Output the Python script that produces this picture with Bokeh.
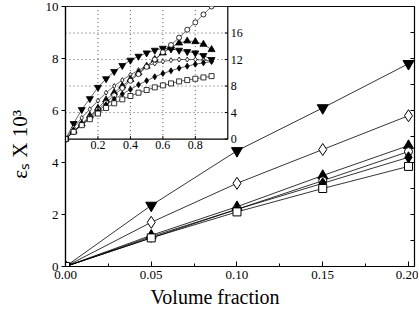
import math
from bokeh.plotting import figure
from bokeh.models import Range1d, FixedTicker, NumeralTickFormatter
from bokeh.core.properties import value
from bokeh.embed import file_html
from bokeh.resources import INLINE

# ---- main chart data (volume fraction vs eps_s x 10^3) ----
vol_main = [0.0, 0.05, 0.10, 0.15, 0.20]
tri_down_main = [0.0, 2.35, 4.45, 6.1, 7.8]
diamond_open_main = [0.0, 1.7, 3.2, 4.5, 5.8]
tri_up_main = [0.0, 1.2, 2.3, 3.5, 4.65]
circle_open_main = [0.0, 1.1, 2.2, 3.3, 4.42]
diamond_main = [0.0, 1.15, 2.2, 3.2, 4.2]
square_main = [0.0, 1.1, 2.1, 3.0, 3.85]

x_ticks_main = [0.0, 0.05, 0.10, 0.15, 0.20]
x_minor_main = [0.025, 0.075, 0.125, 0.175]
y_ticks_main = [0, 2, 4, 6, 8, 10]
y_right_ticks = [1, 2, 3, 4, 5, 6, 7, 8, 9]
x_max_main = 0.2035
y_max_main = 10

# ---- inset data ----
vol_inset = [0.0, 0.05, 0.10, 0.15, 0.20, 0.25, 0.30, 0.35, 0.40, 0.45,
             0.50, 0.55, 0.60, 0.65, 0.70, 0.75, 0.80, 0.85, 0.90]
tri_down_inset = [0.0, 2.35, 4.45, 6.1, 7.8, 9.1, 10.2, 11.1, 11.9, 12.5,
                  13.0, 13.4, 13.7, 13.6, 13.4, 13.2, 13.0, 12.6, 12.0]
diamond_open_inset = [0.0, 1.7, 3.2, 4.5, 5.8, 7.0, 8.0, 8.9, 9.7, 10.4,
                      11.0, 11.4, 11.7, 11.9, 12.0, 12.0, 12.0, 11.9, 11.8]
tri_up_inset = [0.0, 1.2, 2.3, 3.5, 4.65, 5.9, 7.0, 8.0, 9.0, 10.0,
                11.0, 12.0, 13.0, 13.8, 14.5, 14.8, 14.7, 14.3, 13.5]
circle_open_inset = [0.0, 1.1, 2.2, 3.3, 4.42, 5.5, 6.6, 7.7, 8.8, 9.8,
                     10.9, 12.0, 13.1, 14.2, 15.3, 16.5, 17.6, 18.8, 20.0]
diamond_inset = [0.0, 1.15, 2.2, 3.2, 4.2, 5.2, 6.0, 6.8, 7.5, 8.2,
                 8.8, 9.4, 9.9, 10.3, 10.7, 11.0, 11.3, 11.5, 11.7]
square_inset = [0.0, 1.1, 2.1, 3.0, 3.85, 4.7, 5.4, 6.0, 6.5, 7.0,
                7.4, 7.8, 8.1, 8.4, 8.7, 8.9, 9.1, 9.3, 9.5]

x_ticks_inset = [0.2, 0.4, 0.6, 0.8]
x_labels_inset = ["0.2", "0.4", "0.6", "0.8"]
y_ticks_inset = [0, 4, 8, 12, 16]
y_labels_inset = ["0", "4", "8", "12", "16"]
inset_x_max = 1.0
inset_y_max = 20.0

FONT = "Liberation Serif"
NB = "\u00a0"

# ---------------- main figure ----------------
p = figure(width=418, height=312, x_range=Range1d(0, x_max_main), y_range=Range1d(0, y_max_main),
           output_backend="svg", toolbar_location=None,
           min_border_left=65, min_border_right=4, min_border_top=6, min_border_bottom=46)
p.background_fill_color = "white"
p.border_fill_color = "white"
p.outline_line_color = "black"
p.outline_line_width = 1.2
p.xgrid.visible = False
p.ygrid.visible = False

# inset occupies the top-left part of the frame (about 0.465 of width, 0.51 of height)
p.extra_x_ranges = {"ix": Range1d(0, inset_x_max / 0.465)}
p.extra_y_ranges = {"iy": Range1d(inset_y_max - inset_y_max / 0.51, inset_y_max)}

xa = p.xaxis[0]
xa.ticker = FixedTicker(ticks=x_ticks_main, minor_ticks=x_minor_main)
xa.formatter = NumeralTickFormatter(format="0.00")
xa.axis_label = "Volume fraction" + NB * 10
xa.major_tick_in = 5
xa.major_tick_out = 0
xa.minor_tick_in = 3
xa.minor_tick_out = 0
xa.major_label_standoff = 4
xa.axis_label_standoff = 4

ya = p.yaxis[0]
ya.ticker = FixedTicker(ticks=y_ticks_main, minor_ticks=[])
ya.axis_label = "\u03b5\u209b X 10\u00b3" + NB * 3
ya.major_tick_in = 0
ya.major_tick_out = 4
ya.major_label_standoff = 3
ya.axis_label_standoff = 11

for ax in (xa, ya):
    ax.axis_line_color = "black"
    ax.axis_line_width = 1.2
    ax.major_tick_line_color = "black"
    ax.minor_tick_line_color = "black"
    ax.major_label_text_font = FONT
    ax.major_label_text_font_size = "13px"
    ax.major_label_text_color = "black"
    ax.axis_label_text_font = FONT
    ax.axis_label_text_font_size = "20px"
    ax.axis_label_text_font_style = "normal"
    ax.axis_label_text_color = "black"
ya.axis_label_text_font_size = "21px"
ya.major_label_orientation = "horizontal"

# inward ticks on the right border
p.ray(x=[x_max_main] * len(y_right_ticks), y=y_right_ticks, length=4, length_units="screen",
      angle=math.pi, line_color="black", line_width=1)

main_series = [
    (tri_down_main, "inverted_triangle", "black", 11),
    (diamond_open_main, "diamond", "white", 12),
    (tri_up_main, "triangle", "black", 10),
    (circle_open_main, "circle", "white", 8),
    (diamond_main, "diamond", "black", 11),
    (square_main, "square", "white", 8),
]
for ys, mk, fc, sz in main_series:
    p.line(vol_main, ys, line_color="black", line_width=0.8)
    p.scatter(vol_main, ys, marker=mk, size=sz, fill_color=fc, line_color="black", line_width=1)

# ---------------- inset (drawn on extra ranges) ----------------
R = dict(x_range_name="ix", y_range_name="iy")
p.quad(left=[0], right=[inset_x_max], bottom=[0], top=[inset_y_max],
       fill_color="white", line_color="black", line_width=1.2, **R)

# dotted grid lines
p.segment(x0=x_ticks_inset, x1=x_ticks_inset, y0=[0] * 4, y1=[inset_y_max] * 4,
          line_color="#555555", line_dash="1 3", line_width=1, **R)
p.segment(x0=[0] * 4, x1=[inset_x_max] * 4, y0=y_ticks_inset[1:], y1=y_ticks_inset[1:],
          line_color="#555555", line_dash="1 3", line_width=1, **R)

# inward ticks
p.ray(x=x_ticks_inset, y=[0] * 4, length=3, length_units="screen", angle=math.pi / 2,
      line_color="black", line_width=1, **R)
p.ray(x=[inset_x_max] * 5, y=y_ticks_inset, length=3, length_units="screen", angle=math.pi,
      line_color="black", line_width=1, **R)

# tick labels
p.text(x=x_ticks_inset, y=[0] * 4, text=x_labels_inset, y_offset=2,
       text_align="center", text_baseline="top", text_font=value(FONT),
       text_font_size=value("12px"), text_color="black", **R)
p.text(x=[inset_x_max] * 5, y=y_ticks_inset, text=y_labels_inset, x_offset=3,
       text_align="left", text_baseline="middle", text_font=value(FONT),
       text_font_size=value("12px"), text_color="black", **R)

inset_series = [
    (tri_down_inset, "inverted_triangle", "black", 7),
    (diamond_open_inset, "diamond", "white", 5),
    (tri_up_inset, "triangle", "black", 7),
    (circle_open_inset, "circle", "white", 5),
    (diamond_inset, "diamond", "black", 6),
    (square_inset, "square", "white", 5),
]
for ys, mk, fc, sz in inset_series:
    p.line(vol_inset, ys, line_color="black", line_width=0.6, **R)
    p.scatter(vol_inset, ys, marker=mk, size=sz, fill_color=fc, line_color="black",
              line_width=0.8, **R)

open("out.html", "w").write(file_html(p, INLINE))
